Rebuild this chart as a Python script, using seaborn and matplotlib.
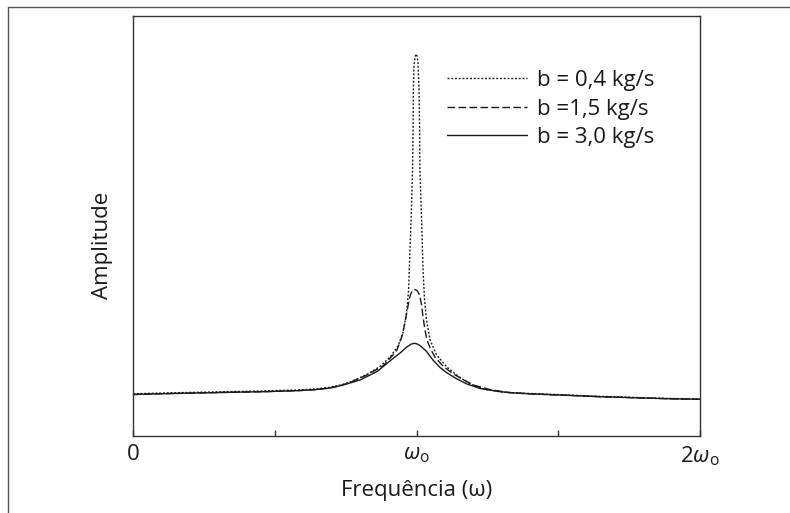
import matplotlib
matplotlib.use("Agg")
import matplotlib.pyplot as plt
from matplotlib.lines import Line2D
import seaborn as sns
import pandas as pd

# ---- data (x in units of omega_0, amplitude in arbitrary units) ----
x_b04 = [0, .106, .226, .342, .459, .578, .640, .695, .735, .765, .825, .871, .907, .935, .952,
         .965, .972, .977, .982, .986, .988, .989, .991, .995, .998, 1.002, 1.005, 1.009, 1.011,
         1.012, 1.018, 1.023, 1.028, 1.035, 1.048, 1.071, 1.107, 1.146, 1.189, 1.242, 1.312,
         1.411, 1.531, 1.647, 1.764, 1.884, 2.0]
y_b04 = [42.2, 43.0, 43.7, 44.4, 45.0, 46.0, 47.0, 48.7, 51.2, 53.9, 61.5, 69.5, 79, 90, 103,
         123, 146, 186, 226, 266, 306, 346, 370, 379, 382, 380, 374, 346, 306,
         266, 216, 166, 138, 116, 96, 81, 69, 60, 52, 46.5, 43.7,
         42.4, 41.0, 39.6, 38.6, 37.6, 37.0]

x_b15 = [0, .106, .226, .342, .459, .578, .640, .695, .735, .765, .825, .882, .917, .931, .949,
         .959, .970, .977, .984, .992, 1.002, 1.011, 1.018, 1.023, 1.030, 1.037, 1.048, 1.065,
         1.093, 1.125, 1.160, 1.206, 1.259, 1.330, 1.411, 1.531, 1.647, 1.764, 1.884, 2.0]
y_b15 = [41.5, 42.3, 43, 43.7, 44.3, 45.3, 46.3, 48.0, 50.6, 53.5, 61, 70, 81, 86, 100,
         113, 130, 140, 145, 146.7, 145.5, 141, 131, 119, 106, 96, 88, 79,
         70, 63, 57, 50.5, 46.5, 43.2, 42, 40.7, 39.3, 38.3, 37.3, 36.7]

x_b30 = [0, .106, .226, .342, .459, .578, .640, .695, .735, .765, .801, .861, .917, .942, .966,
         .980, .991, 1.001, 1.012, 1.034, 1.058, 1.083, 1.108, 1.143, 1.178, 1.224, 1.295, 1.350,
         1.411, 1.531, 1.647, 1.764, 1.884, 2.0]
y_b30 = [41.5, 42.3, 43, 43.7, 44.3, 45.3, 46.3, 48.0, 50.5, 53, 56, 64.5, 77.5, 83, 89,
         91.7, 92.7, 92.2, 90.5, 85, 76, 68.5, 63, 57, 52, 47.5, 44.3, 43.0,
         42, 40.7, 39.3, 38.3, 37.3, 36.7]

labels = ["b = 0,4 kg/s", "b =1,5 kg/s", "b = 3,0 kg/s"]
xtick_pos = [0, 1, 2]
xtick_labels = ["0", r"$\mathit{\omega}_{\mathrm{o}}$", r"$2\mathit{\omega}_{\mathrm{o}}$"]
minor_ticks = [0.5, 1.5]

# ---- style ----
sns.set_theme(style="white")
plt.rcParams["font.family"] = ["Open Sans", "DejaVu Sans"]
plt.rcParams["mathtext.fontset"] = "custom"
plt.rcParams["mathtext.rm"] = "Open Sans"
plt.rcParams["mathtext.it"] = "Open Sans:italic"
plt.rcParams["mathtext.bf"] = "Open Sans:bold"

FS = 16
INK = "#1a1a1a"

fig = plt.figure(figsize=(7.9, 5.13), dpi=100)
W, H = 790, 513
ax = fig.add_axes([133 / W, 1 - 436 / H, (700 - 133) / W, (436 - 16) / H])

frames = [
    (x_b04, y_b04, labels[0], (0, (1.4, 1.3))),
    (x_b15, y_b15, labels[1], (0, (5.5, 2.4))),
    (x_b30, y_b30, labels[2], "-"),
]
for xs, ys, lab, ls in frames:
    df = pd.DataFrame({"w": xs, "A": ys})
    sns.lineplot(data=df, x="w", y="A", ax=ax, color=INK, linestyle=ls,
                 linewidth=1.0, label=lab)

ax.set_xlim(0, 2)
ax.set_ylim(0, 420)

for s in ax.spines.values():
    s.set_color("#333333")
    s.set_linewidth(1.0)

ax.set_yticks([])
ax.set_xticks(xtick_pos)
ax.set_xticklabels(xtick_labels, fontsize=FS, color=INK)
ax.set_xticks(minor_ticks, minor=True)
ax.tick_params(axis="x", which="both", direction="in", length=4, width=1,
               color="#333333", pad=6, bottom=True)

ax.set_xlabel("Frequência (ω)", fontsize=FS, color=INK)
ax.xaxis.set_label_coords(0.5, -0.105)
ax.set_ylabel("Amplitude", fontsize=FS, color=INK)
ax.yaxis.set_label_coords(-0.036, 0.455)

leg = ax.legend(loc="upper left", bbox_to_anchor=(0.554, 0.871), frameon=False,
                borderaxespad=0, borderpad=0, handlelength=3.6, handletextpad=0.45,
                labelspacing=0.33, fontsize=FS)
for t in leg.get_texts():
    t.set_color(INK)

# outer frame (top and left edges of the surrounding box)
fig.add_artist(Line2D([8 / W, 1.0], [1 - 7 / H, 1 - 7 / H], color="#555555", linewidth=1.0,
                      transform=fig.transFigure))
fig.add_artist(Line2D([8 / W, 8 / W], [1 - 7 / H, 0.0], color="#555555", linewidth=1.0,
                      transform=fig.transFigure))

fig.savefig("out.png", dpi=100)
